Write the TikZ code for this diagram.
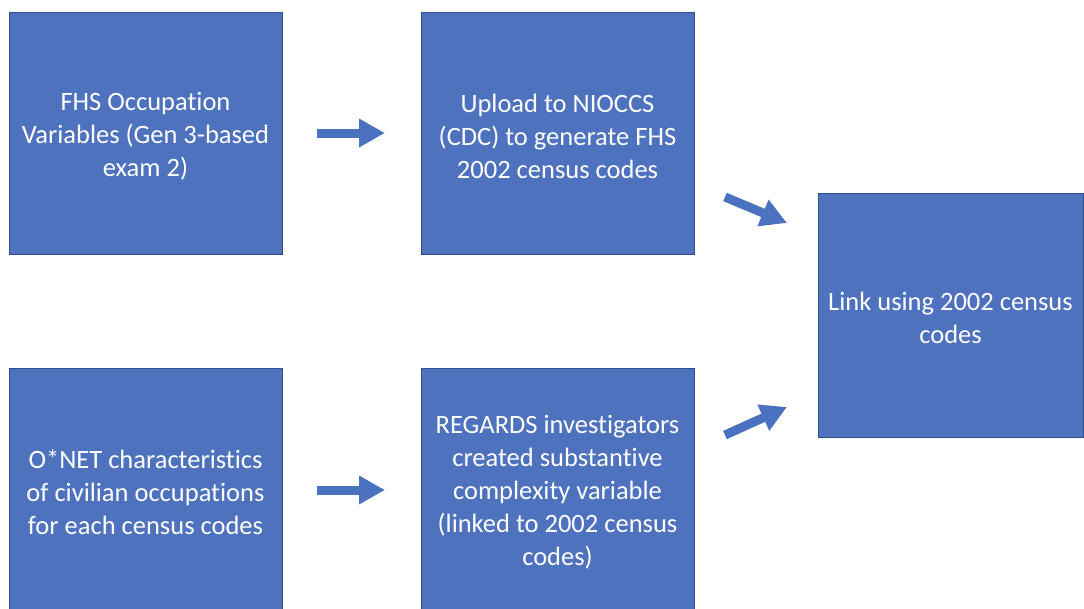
\documentclass[tikz,border=0pt]{standalone}
\usepackage{fontspec}
\setmainfont{Carlito}[Ligatures={NoCommon,NoContextual}]
\usetikzlibrary{arrows.meta}
\definecolor{boxfill}{HTML}{4E72BE}
\definecolor{boxline}{HTML}{2F528F}
\definecolor{arrowfill}{HTML}{4A72C0}
\begin{document}
\begin{tikzpicture}[x=1pt,y=-1pt,
  box/.style={draw=boxline,line width=1pt,fill=boxfill,inner sep=0pt},
  boxtext/.style={text=white,align=center,inner sep=0pt,yshift=-3pt,
    font=\fontsize{26.5}{33}\selectfont},
  blockarrow/.style={draw=arrowfill,line width=9pt,
    -{Triangle[width=27pt,length=26pt]}}]
\useasboundingbox (0,0) rectangle (1084,608);
\clip (0,0) rectangle (1084,608);
\node[box,minimum width=273pt,minimum height=242pt,
  label={[boxtext]center:{FHS Occupation\\Variables (Gen 3-based\\exam 2)}}] (b1) at (145.5,133) {};
\node[box,minimum width=273pt,minimum height=242pt,
  label={[boxtext]center:{Upload to NIOCCS\\(CDC) to generate FHS\\2002 census codes}}] (b2) at (557.5,133) {};
\node[box,minimum width=265pt,minimum height=244pt,
  label={[boxtext]center:{Link using 2002 census\\codes}}] (b3) at (950.5,315) {};
\node[box,minimum width=273pt,minimum height=242pt,
  label={[boxtext]center:{O*NET characteristics\\of civilian occupations\\for each census codes}}] (b4) at (145.5,489) {};
\node[box,minimum width=273pt,minimum height=242pt,
  label={[boxtext]center:{REGARDS investigators\\created substantive\\complexity variable\\(linked to 2002 census\\codes)}}] (b5) at (557.5,489) {};
\coordinate (a1s) at (317,133);
\coordinate (a1e) at (385,133);
\coordinate (a2s) at (317,490);
\coordinate (a2e) at (385,490);
\coordinate (a3s) at (725,197);
\coordinate (a3e) at (787,223);
\coordinate (a4s) at (725,435);
\coordinate (a4e) at (787,407);
\draw[blockarrow] (a1s) -- (a1e);
\draw[blockarrow] (a2s) -- (a2e);
\draw[blockarrow] (a3s) -- (a3e);
\draw[blockarrow] (a4s) -- (a4e);
\end{tikzpicture}
\end{document}
